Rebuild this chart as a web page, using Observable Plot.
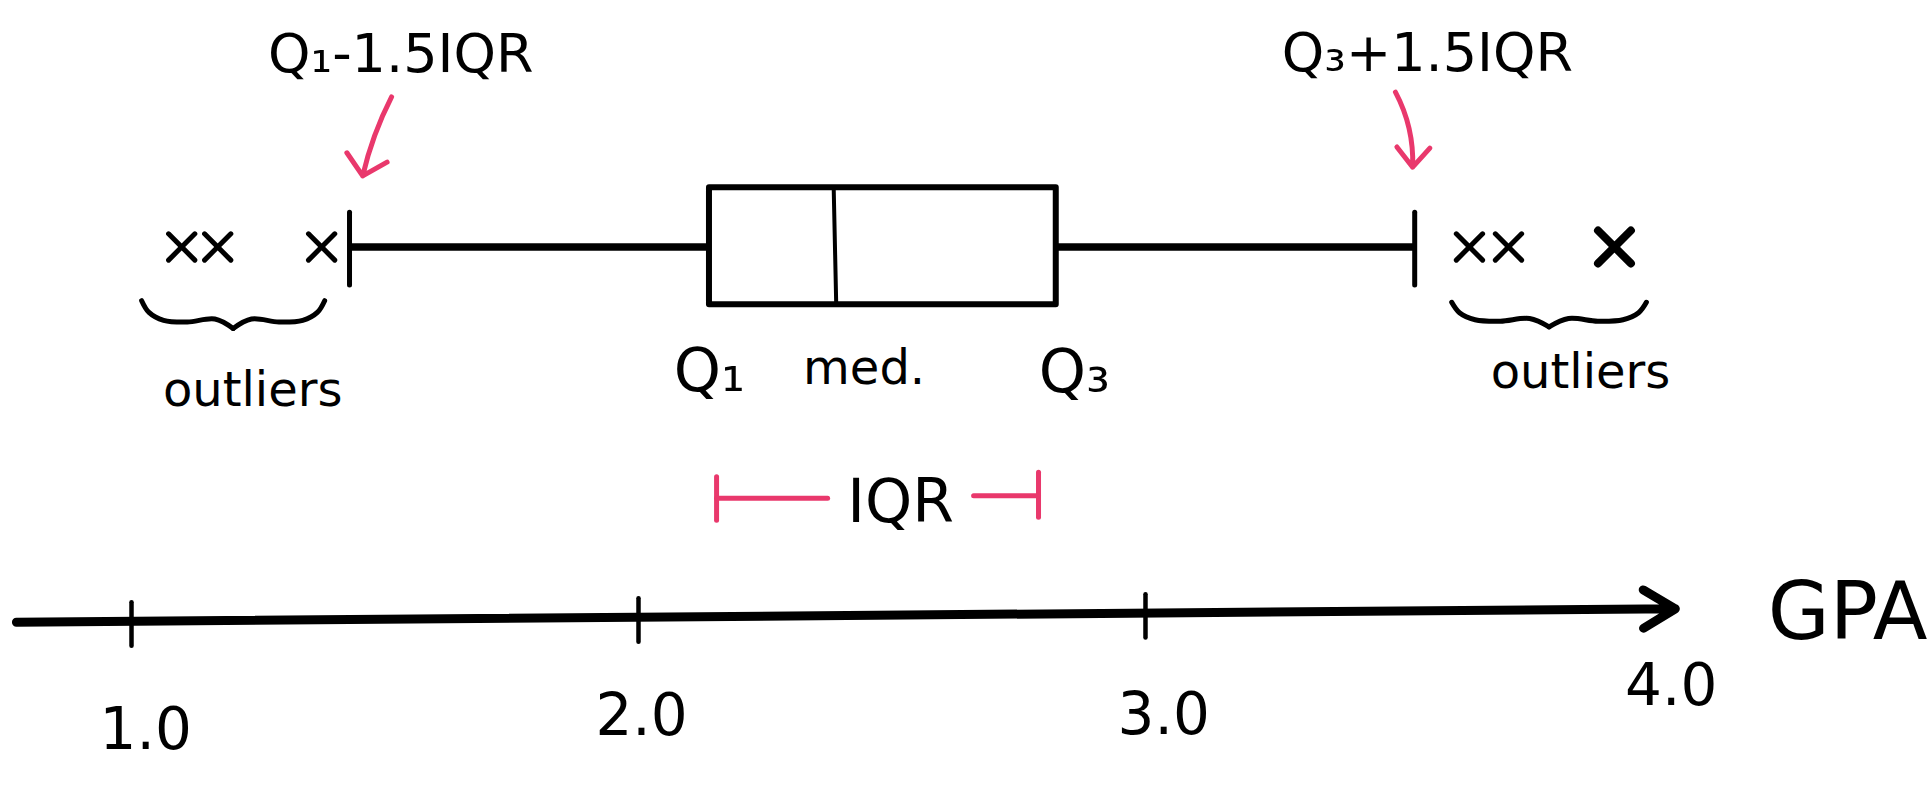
<!DOCTYPE html>
<html>
<head>
<meta charset="utf-8">
<script src="https://cdn.jsdelivr.net/npm/d3@7"></script>
<script src="https://cdn.jsdelivr.net/npm/@observablehq/plot@0.6"></script>
<style>
html,body{margin:0;padding:0;background:#fff;overflow:hidden}
#chart svg{display:block}
</style>
</head>
<body>
<div id="chart"></div>
<script>
// ---------- data: GPA box plot ----------
const q1 = 2.14;
const median = 2.385;
const q3 = 2.824;
const lowerWhisker = 1.43;   // Q1 - 1.5 IQR
const upperWhisker = 3.531;  // Q3 + 1.5 IQR
const lowOutliers = [1.099, 1.17, 1.375];
const highOutliers = [3.639, 3.716, 3.925];
const tickValues = [1, 2, 3];
const tickLabelValues = [1, 2, 3, 4];
const tickLabels = ["1.0", "2.0", "3.0", "4.0"];
const axisTitle = "GPA";
const fenceLabels = ["Q₁-1.5IQR", "Q₃+1.5IQR"];
const boxLabels = ["Q₁", "med.", "Q₃"];
const outlierLabel = "outliers";
const iqrLabel = "IQR";

// ---------- layout (x in GPA units, y in layout rows 0 = top .. 100 = bottom) ----------
const RED = "#e9386c", INK = "#000";
const W = 1929, H = 790;
const xDomain = [0.7416, 4.5464];
const axisFrom = 0.773, axisTo = 4.045;
const axisYLeft = 78.7, axisYRight = 77.0;
const axisY = v => axisYLeft + (v - axisFrom) * (axisYRight - axisYLeft) / (axisTo - axisFrom);
const tickLabelShift = [0.028, 0.006, 0.036, 0.037];
const tickLabelBase = [94.7, 93.0, 92.8, 89.2];
const whiskerY = 31.2, boxTop = 23.7, boxBottom = 38.5;

const braceProfile = [[0,0],[0.04,0.55],[0.12,0.92],[0.25,1],[0.4,0.86],[0.5,1.3]];
function brace(x0, x1, yTop, depth) {
  const w = x1 - x0;
  const a = braceProfile.map(([t, f]) => ({x: x0 + t * w, y: yTop + f * depth, side: "a"}));
  const b = braceProfile.map(([t, f]) => ({x: x1 - t * w, y: yTop + f * depth, side: "b"}));
  return a.concat(b);
}
const braceData = brace(d3.min(lowOutliers) - 0.079, d3.max(lowOutliers) + 0.006, 38.0, 2.7)
  .concat(brace(d3.min(highOutliers) - 0.035, d3.max(highOutliers) + 0.063, 38.2, 2.4)
    .map(d => ({...d, side: d.side + "2"})));

const chart = Plot.plot({
  width: W, height: H, margin: 0,
  x: {domain: xDomain, axis: null},
  y: {domain: [0, 100], range: [0, H], axis: null},
  style: {fontFamily: "'DejaVu Sans', sans-serif", background: "white", color: "black"},
  marks: [
    // number line with arrow
    Plot.arrow([{x1: axisFrom, y1: axisYLeft, x2: axisTo, y2: axisYRight}],
      {x1: "x1", y1: "y1", x2: "x2", y2: "y2", stroke: INK, strokeWidth: 9,
       headAngle: 62, headLength: 6.2, strokeLinecap: "round", strokeLinejoin: "round"}),
    Plot.link(tickValues, {x1: d => d, x2: d => d, y1: d => axisY(d) - 2.4, y2: d => axisY(d) + 3.1,
      stroke: INK, strokeWidth: 4.5, strokeLinecap: "round"}),
    Plot.text(tickLabelValues, {x: (d, i) => d + tickLabelShift[i], y: (d, i) => tickLabelBase[i],
      text: (d, i) => tickLabels[i], fontSize: 58, lineAnchor: "bottom", fill: INK, ariaLabel: "ticklabels"}),
    Plot.text([axisTitle], {x: () => 4.385, y: () => 80.8, text: d => d, fontSize: 80,
      lineAnchor: "bottom", fill: INK}),

    // whiskers
    Plot.link([{a: lowerWhisker, b: q1}, {a: q3, b: upperWhisker}],
      {x1: "a", x2: "b", y1: () => whiskerY, y2: () => whiskerY, stroke: INK, strokeWidth: 7.5}),
    Plot.link([lowerWhisker, upperWhisker], {x1: d => d, x2: d => d, y1: () => 26.8, y2: () => 36.0,
      stroke: INK, strokeWidth: 5, strokeLinecap: "round"}),
    // box + median
    Plot.rect([{q1, q3}], {x1: "q1", x2: "q3", y1: () => boxTop, y2: () => boxBottom,
      fill: "white", stroke: INK, strokeWidth: 6, strokeLinejoin: "round"}),
    Plot.link([median], {x1: d => d, x2: d => d + 0.005, y1: () => boxTop, y2: () => boxBottom,
      stroke: INK, strokeWidth: 4, strokeLinecap: "round"}),

    // outliers
    Plot.dot(lowOutliers.concat(highOutliers.slice(0, 2)), {x: d => d, y: () => whiskerY,
      symbol: "times", r: 12, stroke: INK, strokeWidth: 5, strokeLinecap: "round"}),
    Plot.dot(highOutliers.slice(2), {x: d => d, y: () => whiskerY,
      symbol: "times", r: 15, stroke: INK, strokeWidth: 8, strokeLinecap: "round"}),
    Plot.line(braceData, {x: "x", y: "y", z: "side", curve: "catmull-rom",
      stroke: INK, strokeWidth: 5, strokeLinecap: "round"}),
    Plot.text([outlierLabel, outlierLabel], {x: (d, i) => [1.239, 3.858][i], y: (d, i) => [51.3, 49.1][i],
      text: d => d, fontSize: 48, lineAnchor: "bottom", fill: INK, ariaLabel: "outlierlabels"}),

    // box labels
    Plot.text(boxLabels, {x: (d, i) => [q1, median + 0.06, q3 + 0.036][i], y: (d, i) => [49.4, 48.5, 49.6][i],
      text: d => d, fontSize: (d, i) => [60, 48, 60][i], lineAnchor: "bottom", fill: INK}),

    // fence labels + red arrows
    Plot.text(fenceLabels, {x: (d, i) => [1.531, 3.556][i], y: (d, i) => [9.1, 8.9][i],
      text: d => d, fontSize: 54, lineAnchor: "bottom", fill: INK, ariaLabel: "fencelabels"}),
    Plot.arrow([{x1: 1.513, y1: 12.2, x2: 1.456, y2: 22.2}], {x1: "x1", y1: "y1", x2: "x2", y2: "y2",
      bend: -7, headAngle: 95, headLength: 8.4, stroke: RED, strokeWidth: 5,
      strokeLinecap: "round", strokeLinejoin: "round"}),
    Plot.arrow([{x1: 3.493, y1: 11.6, x2: 3.527, y2: 21.1}], {x1: "x1", y1: "y1", x2: "x2", y2: "y2",
      bend: 15, headAngle: 80, headLength: 8, stroke: RED, strokeWidth: 5,
      strokeLinecap: "round", strokeLinejoin: "round"}),

    // IQR bracket
    Plot.link([q1 + 0.014, q3 - 0.035], {x1: d => d, x2: d => d, y1: (d, i) => [60.3, 59.7][i],
      y2: (d, i) => [65.8, 65.4][i], stroke: RED, strokeWidth: 5, strokeLinecap: "round"}),
    Plot.link([{a: q1 + 0.014, b: 2.373, y: 63.0}, {a: 2.661, b: q3 - 0.035, y: 62.7}],
      {x1: "a", x2: "b", y1: "y", y2: "y", stroke: RED, strokeWidth: 5, strokeLinecap: "round"}),
    Plot.text([iqrLabel], {x: () => (q1 + q3) / 2 + 0.035, y: () => 66.0, text: d => d, fontSize: 60,
      lineAnchor: "bottom", fill: INK, ariaLabel: "iqrlabel"})
  ]
});

document.getElementById("chart").appendChild(chart);
const svg = d3.select(chart);
svg.selectAll('g[aria-label="fencelabels"] text').style("letter-spacing", "4px");
svg.selectAll('g[aria-label="outlierlabels"] text').style("letter-spacing", "3px");
svg.selectAll('g[aria-label="iqrlabel"] text').style("letter-spacing", "14px");
</script>
</body>
</html>
